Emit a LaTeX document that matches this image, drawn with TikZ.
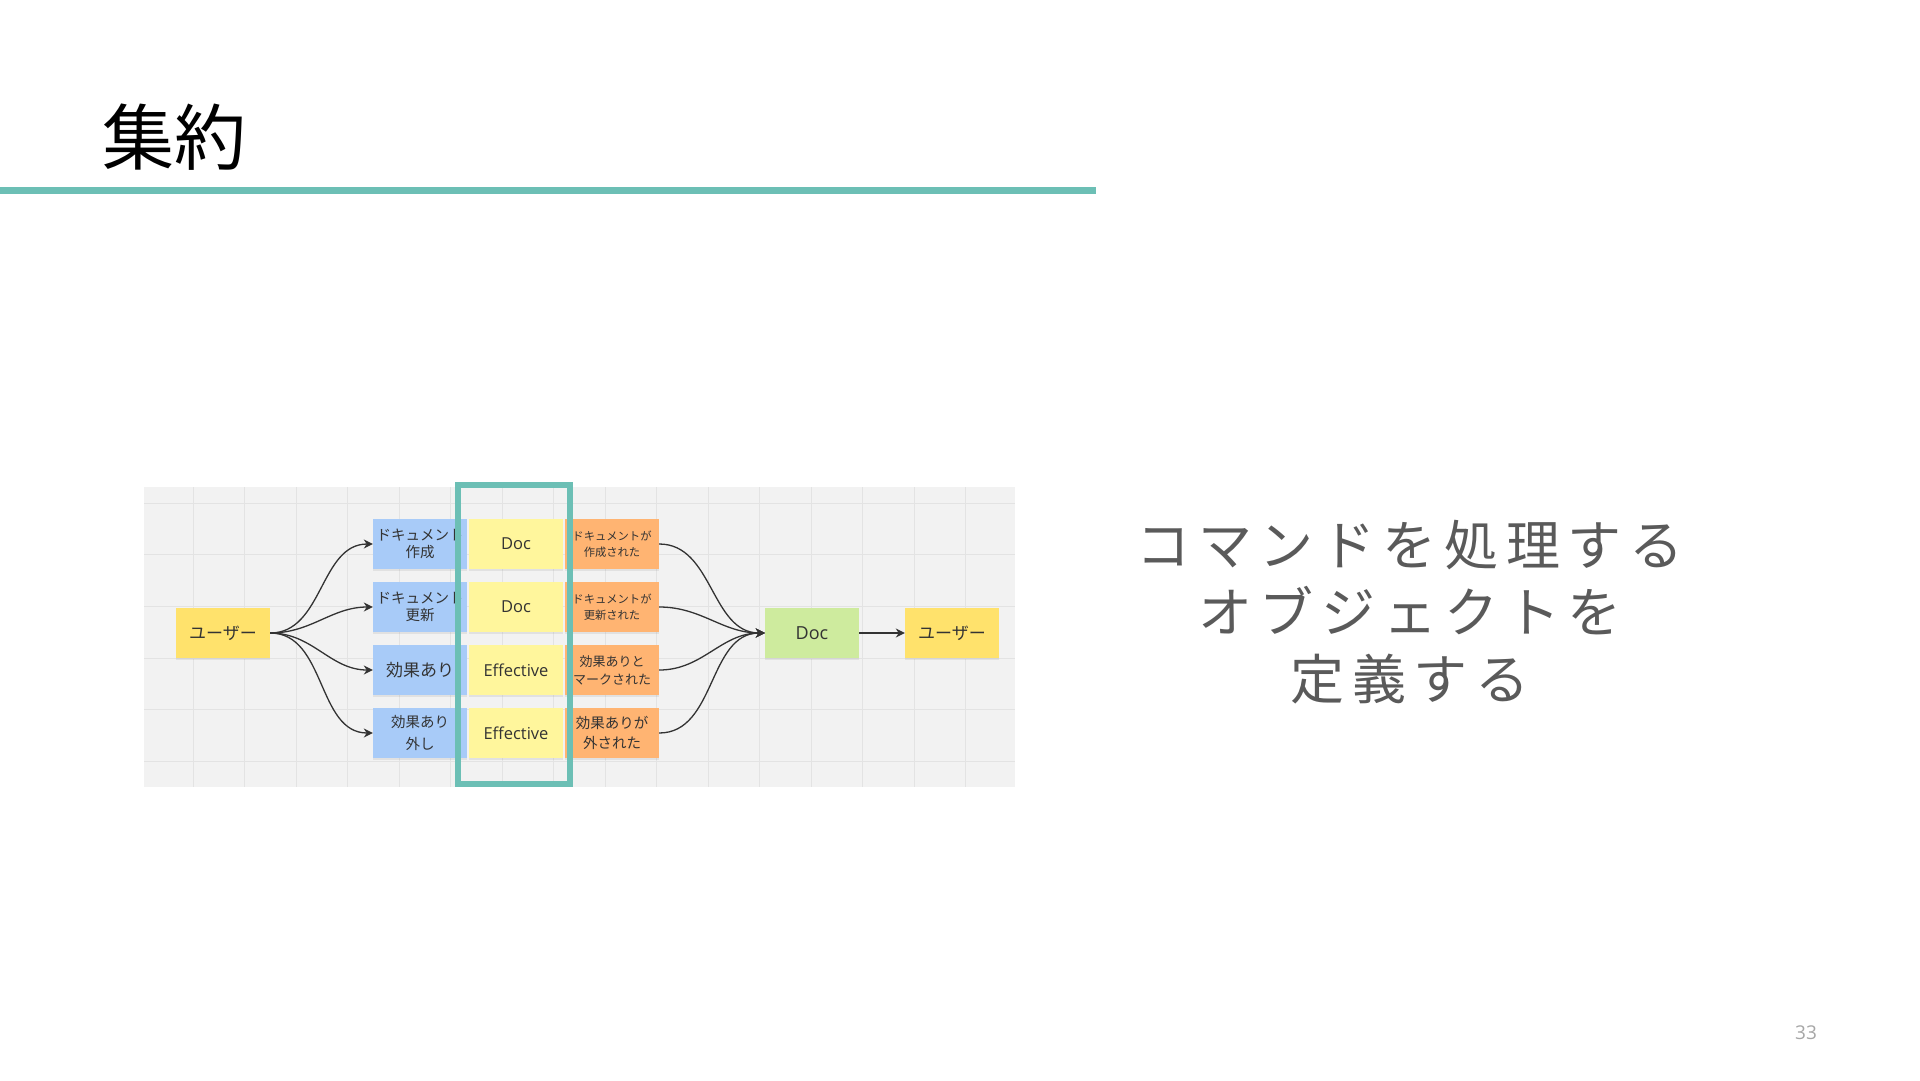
\documentclass[tikz,border=0pt]{standalone}
\usepackage{fontspec}
\setmainfont{Open Sans}
\newfontfamily\jpfont{Noto Sans CJK JP}
\newfontfamily\jpwide[LetterSpace=14]{Noto Sans CJK JP}
\usetikzlibrary{positioning,arrows.meta,shadows}
\definecolor{teal}{HTML}{6CBFB5}
\definecolor{panel}{HTML}{F2F2F2}
\definecolor{gridcol}{HTML}{E3E3E3}
\definecolor{useryel}{HTML}{FFE26C}
\definecolor{aggyel}{HTML}{FFF69C}
\definecolor{cmdblue}{HTML}{A8CBF8}
\definecolor{evtorange}{HTML}{FFB472}
\definecolor{viewgreen}{HTML}{CEEB9E}
\definecolor{ink}{HTML}{333333}
\definecolor{bodygray}{HTML}{5A5A5A}

\begin{document}
\begin{tikzpicture}[x=1pt, y=-1pt,
        note/.style={rectangle, minimum width=94pt, minimum height=50pt,
          inner sep=0pt, align=center, text=ink,
          drop shadow={opacity=0.15, shadow xshift=0pt, shadow yshift=-2pt}},
        usernote/.style={note, fill=useryel, font=\jpfont\fontsize{17}{20}\selectfont},
        cmdnote/.style={note, fill=cmdblue},
        aggnote/.style={note, fill=aggyel, font=\fontsize{16.5}{20}\selectfont},
        evtnote/.style={note, fill=evtorange},
        viewnote/.style={note, fill=viewgreen, font=\fontsize{18}{20}\selectfont},
        flow/.style={-{Stealth[length=9pt, width=9pt]}, ink, line width=1.3pt},
        gridline/.style={gridcol, line width=1pt},
      ]
      \useasboundingbox (0,0) rectangle (1920,1080);

      % title and rule
      \node[inner sep=0pt, font=\jpfont\fontsize{72}{80}\selectfont] (title) at (174,137) {集約};
      \fill[teal] (0,187) rectangle (1096,194);

      % board background with grid
      \fill[panel] (144,487) rectangle (1015,787);
      \foreach \gx in {0,...,15}
        \draw[gridline] ({193.3+51.5*\gx},487) -- ++(0,300);
      \foreach \gy in {0,...,5}
        \draw[gridline] (144,{503.3+51.6*\gy}) -- (1015,{503.3+51.6*\gy});

      % sticky notes
      \node[usernote] (user) at (223,633) {ユーザー};

      \node[cmdnote, font=\jpfont\fontsize{14.5}{17.5}\selectfont] (cmdA) at (420,544) {ドキュメント\\作成};
      \node[cmdnote, font=\jpfont\fontsize{14.5}{17.5}\selectfont] (cmdB) at (420,607) {ドキュメント\\更新};
      \node[cmdnote, font=\jpfont\fontsize{17}{20}\selectfont] (cmdC) at (420,670) {効果あり};
      \node[cmdnote, font=\jpfont\fontsize{14.5}{21.5}\selectfont] (cmdD) at (420,733) {効果あり\\外し};

      \node[aggnote] (aggA) at (516,544) {Doc};
      \node[aggnote] (aggB) at (516,607) {Doc};
      \node[aggnote] (aggC) at (516,670) {Effective};
      \node[aggnote] (aggD) at (516,733) {Effective};

      \node[evtnote, font=\jpfont\fontsize{11.3}{16.5}\selectfont] (evtA) at (612,544) {ドキュメントが\\作成された};
      \node[evtnote, font=\jpfont\fontsize{11.3}{16.5}\selectfont] (evtB) at (612,607) {ドキュメントが\\更新された};
      \node[evtnote, font=\jpfont\fontsize{13}{18.3}\selectfont] (evtC) at (612,670) {効果ありと\\マークされた};
      \node[evtnote, font=\jpfont\fontsize{14.5}{20}\selectfont] (evtD) at (612,733) {効果ありが\\外された};

      \node[viewnote] (docview) at (812,633) {Doc};
      \node[usernote] (reader) at (952,633) {ユーザー};

      % connectors
      \foreach \row in {A,B,C,D} {
        \draw[flow] (user.east) to[out=0, in=180] (cmd\row.west);
        \draw[flow] (evt\row.east) to[out=0, in=180] (docview.west);
      }
      \draw[flow] (docview) -- (reader);

      % aggregate frame
      \draw[teal, line width=6pt] (458,485) rectangle (570,784);

      % side text
      \node[align=center, text=bodygray, font=\jpwide\fontsize{54}{67}\selectfont] (caption) at (1410,612)
        {コマンドを処理する\\オブジェクトを\\定義する};

      \node[text=gray!70, font=\fontsize{19}{22}\selectfont] (pageno) at (1806,1033) {33};
    \end{tikzpicture}
\end{document}
